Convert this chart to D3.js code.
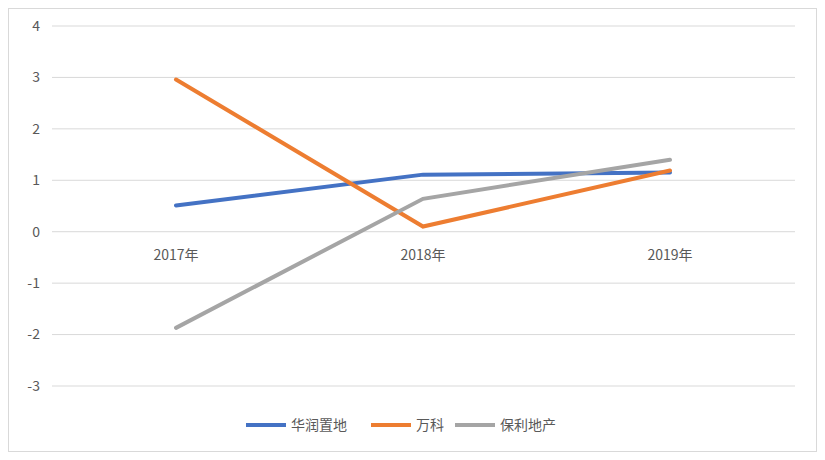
<!DOCTYPE html>
<html><head><meta charset="utf-8">
<script src="https://cdn.jsdelivr.net/npm/d3@7"></script>
<style>body{margin:0;background:#fff}text{font-family:"Noto Sans CJK SC","Noto Sans",sans-serif}</style>
</head><body><svg id="c" width="825" height="460"></svg>
<script>
const categories=["2017年","2018年","2019年"];
const seriesNames=["华润置地","万科","保利地产"];
const seriesColors=["#4472C4","#ED7D31","#A5A5A5"];
const huarun=[0.51,1.11,1.15];
const vanke=[2.96,0.10,1.19];
const poly=[-1.87,0.64,1.40];
const yTicks=[-3,-2,-1,0,1,2,3,4];
const values=[huarun,vanke,poly];

const svg=d3.select("#c");
svg.append("rect").attr("x",8.5).attr("y",8.5).attr("width",808).attr("height",443).attr("fill","#fff").attr("stroke","#D9D9D9");
const x=d3.scalePoint().domain(categories).range([176,670]);
const y=d3.scaleLinear().domain([-3,4]).range([386,26]);
const g=svg.append("g");
yTicks.forEach(t=>{
  g.append("line").attr("x1",52).attr("x2",795).attr("y1",y(t)).attr("y2",y(t)).attr("stroke","#D9D9D9");
  g.append("text").attr("x",40).attr("y",y(t)).attr("dy","0.35em").attr("text-anchor","end").attr("font-size",14).attr("fill","#595959").text(t);
});
categories.forEach(c=>g.append("text").attr("x",x(c)).attr("y",y(0)+28).attr("text-anchor","middle").attr("font-size",14).attr("fill","#595959").text(c));
const line=d3.line().x((d,i)=>x(categories[i])).y(d=>y(d));
values.forEach((v,i)=>g.append("path").attr("d",line(v)).attr("fill","none").attr("stroke",seriesColors[i]).attr("stroke-width",4).attr("stroke-linecap","round"));
const lx=[246,371,455];
seriesNames.forEach((n,i)=>{
  g.append("line").attr("x1",lx[i]).attr("x2",lx[i]+40).attr("y1",425).attr("y2",425).attr("stroke",seriesColors[i]).attr("stroke-width",4);
  g.append("text").attr("x",lx[i]+45).attr("y",425).attr("dy","0.35em").attr("font-size",14).attr("fill","#595959").text(n);
});
</script></body></html>
